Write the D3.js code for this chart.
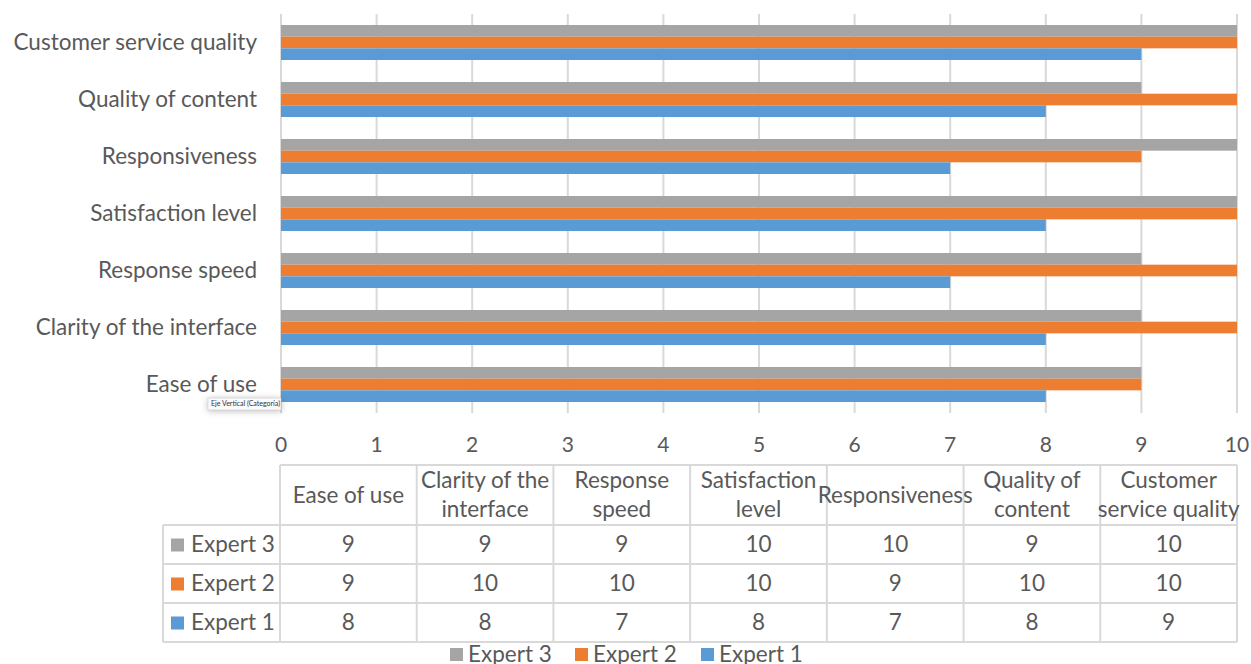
<!DOCTYPE html>
<html>
<head>
<meta charset="utf-8">
<script src="https://cdn.jsdelivr.net/npm/d3@7"></script>
<style>
  body { margin: 0; background: #fff; }
  svg text { font-family: Lato, "Open Sans", sans-serif; fill: #595959; }
</style>
</head>
<body>
<svg id="chart"></svg>
<script>
var categories = ["Ease of use", "Clarity of the interface", "Response speed", "Satisfaction level",
                  "Responsiveness", "Quality of content", "Customer service quality"];
var headerLines = [["Ease of use"], ["Clarity of the", "interface"], ["Response", "speed"],
                   ["Satisfaction", "level"], ["Responsiveness"], ["Quality of", "content"],
                   ["Customer", "service quality"]];
var seriesNames = ["Expert 3", "Expert 2", "Expert 1"];
var expert1 = [8, 8, 7, 8, 7, 8, 9];
var expert2 = [9, 10, 10, 10, 9, 10, 10];
var expert3 = [9, 9, 9, 10, 10, 9, 10];
var xTicks = [0, 1, 2, 3, 4, 5, 6, 7, 8, 9, 10];

var width = 1251, height = 664;
var colors = {"Expert 3": "#a5a5a5", "Expert 2": "#ed7d31", "Expert 1": "#5b9bd5"};
var values = {"Expert 3": expert3, "Expert 2": expert2, "Expert 1": expert1};
var fs = "22.5px";

var svg = d3.select("#chart").attr("width", width).attr("height", height);

var x = d3.scaleLinear().domain([0, 10]).range([281, 1237]);
var y = d3.scaleBand()
  .domain(categories.slice().reverse())
  .range([14, 413])
  .paddingInner(0.386)
  .paddingOuter(0.193);
var ySub = d3.scaleBand().domain(seriesNames).range([0, y.bandwidth()]);

// gridlines
svg.append("g").selectAll("line")
  .data(xTicks)
  .enter().append("line")
  .attr("x1", function(d) { return x(d); })
  .attr("x2", function(d) { return x(d); })
  .attr("y1", 14)
  .attr("y2", 413)
  .attr("stroke", "#d9d9d9")
  .attr("stroke-width", 2);

// bars
var groups = svg.append("g").selectAll("g")
  .data(categories)
  .enter().append("g")
  .attr("transform", function(d) { return "translate(0," + y(d) + ")"; });

groups.selectAll("rect")
  .data(function(c, i) {
    return seriesNames.map(function(s) { return {series: s, value: values[s][i]}; });
  })
  .enter().append("rect")
  .attr("x", x(0))
  .attr("y", function(d) { return ySub(d.series); })
  .attr("width", function(d) { return x(d.value) - x(0); })
  .attr("height", ySub.bandwidth())
  .attr("fill", function(d) { return colors[d.series]; });

// category labels
svg.append("g").selectAll("text")
  .data(categories)
  .enter().append("text")
  .attr("x", 257)
  .attr("y", function(d) { return y(d) + y.bandwidth() / 2; })
  .attr("dy", "0.35em")
  .attr("text-anchor", "end")
  .style("font-size", fs)
  .text(function(d) { return d; });

// x axis tick labels
svg.append("g").selectAll("text")
  .data(xTicks)
  .enter().append("text")
  .attr("x", function(d) { return x(d); })
  .attr("y", 445)
  .attr("dy", "0.35em")
  .attr("text-anchor", "middle")
  .style("font-size", "21px")
  .text(function(d) { return d; });

// data table
var col = d3.scaleBand().domain(categories).range([280, 1237]);
var tableTop = 465, headerBottom = 525, rowH = 39, leftEdge = 163;
var rowY = d3.scaleBand().domain(seriesNames).range([headerBottom, headerBottom + 3 * rowH]);
var tableBottom = headerBottom + 3 * rowH;
var grid = svg.append("g").attr("stroke", "#d9d9d9").attr("stroke-width", 2);

grid.append("line").attr("x1", 280).attr("x2", 1237).attr("y1", tableTop).attr("y2", tableTop);
grid.selectAll("line.h")
  .data(seriesNames.concat(["end"]))
  .enter().append("line")
  .attr("x1", leftEdge).attr("x2", 1237)
  .attr("y1", function(d) { return d === "end" ? tableBottom : rowY(d); })
  .attr("y2", function(d) { return d === "end" ? tableBottom : rowY(d); });
grid.selectAll("line.v")
  .data(categories.concat(["end"]))
  .enter().append("line")
  .attr("x1", function(d) { return d === "end" ? 1237 : col(d); })
  .attr("x2", function(d) { return d === "end" ? 1237 : col(d); })
  .attr("y1", tableTop).attr("y2", tableBottom);
grid.append("line").attr("x1", leftEdge).attr("x2", leftEdge)
  .attr("y1", headerBottom).attr("y2", tableBottom);

// header text
var headers = svg.append("g").selectAll("text")
  .data(categories)
  .enter().append("text")
  .attr("text-anchor", "middle")
  .style("font-size", fs)
  .attr("transform", function(d) {
    return "translate(" + (col(d) + col.bandwidth() / 2) + "," + ((tableTop + headerBottom) / 2) + ")";
  });
headers.each(function(d, i) {
  var lines = headerLines[i];
  var t = d3.select(this);
  lines.forEach(function(line, j) {
    t.append("tspan")
      .attr("x", 0)
      .attr("y", (j - (lines.length - 1) / 2) * 29)
      .attr("dy", "0.35em")
      .text(line);
  });
});

// row labels with keys
var rows = svg.append("g").selectAll("g")
  .data(seriesNames)
  .enter().append("g")
  .attr("transform", function(d) { return "translate(0," + (rowY(d) + rowH / 2) + ")"; });
rows.append("rect")
  .attr("x", 171).attr("y", -6).attr("width", 13).attr("height", 13)
  .attr("fill", function(d) { return colors[d]; });
rows.append("text")
  .attr("x", 191).attr("dy", "0.35em")
  .style("font-size", fs)
  .text(function(d) { return d; });

// cell values
rows.each(function(s) {
  d3.select(this).selectAll("text.v")
    .data(values[s])
    .enter().append("text")
    .attr("x", function(v, i) { return col(categories[i]) + col.bandwidth() / 2; })
    .attr("dy", "0.35em")
    .attr("text-anchor", "middle")
    .style("font-size", fs)
    .text(function(v) { return v; });
});

// legend
var legendX = [450, 575, 701];
var legend = svg.append("g").selectAll("g")
  .data(seriesNames)
  .enter().append("g")
  .attr("transform", function(d, i) { return "translate(" + legendX[i] + ",654)"; });
legend.append("rect")
  .attr("x", 0).attr("y", -6).attr("width", 13).attr("height", 13)
  .attr("fill", function(d) { return colors[d]; });
legend.append("text")
  .attr("x", 18).attr("dy", "0.35em")
  .style("font-size", fs)
  .text(function(d) { return d; });

// tooltip left on the picture
var tip = svg.append("g").attr("transform", "translate(208,398)");
tip.append("rect")
  .attr("width", 73).attr("height", 12)
  .attr("fill", "#fafafa").attr("stroke", "#cccccc").attr("stroke-width", 0.6)
  .style("filter", "drop-shadow(0 1px 3px rgba(0,0,0,0.25))");
tip.append("text")
  .attr("x", 3).attr("y", 6).attr("dy", "0.35em")
  .style("font-size", "7px").style("fill", "#333")
  .text("Eje Vertical (Categoría)");
</script>
</body>
</html>
